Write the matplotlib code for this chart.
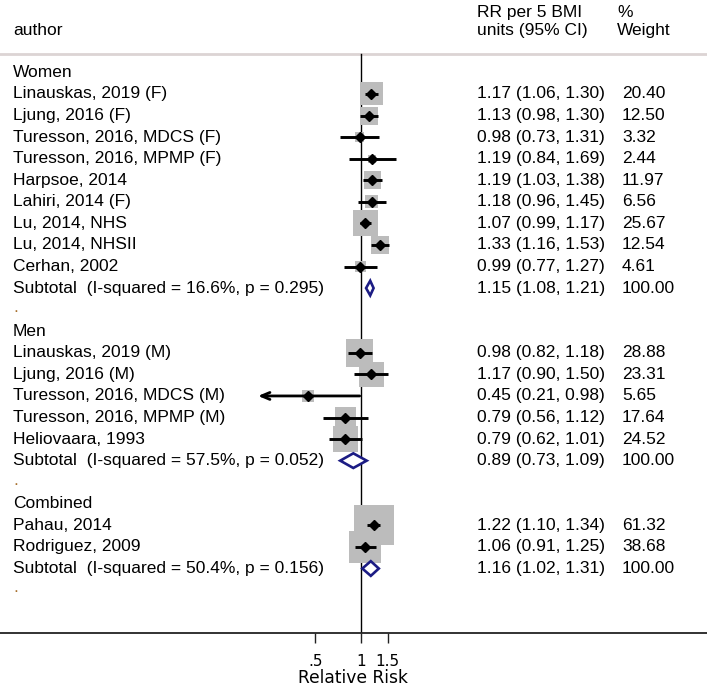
import numpy as np
import matplotlib
matplotlib.use("Agg")
import matplotlib.pyplot as plt
import matplotlib.transforms as mtransforms
from matplotlib.ticker import FixedLocator, FixedFormatter, NullLocator

# ---- data ----
women_names = ["Linauskas, 2019 (F)", "Ljung, 2016 (F)", "Turesson, 2016, MDCS (F)",
               "Turesson, 2016, MPMP (F)", "Harpsoe, 2014", "Lahiri, 2014 (F)",
               "Lu, 2014, NHS", "Lu, 2014, NHSII", "Cerhan, 2002"]
women_rr = [1.17, 1.13, 0.98, 1.19, 1.19, 1.18, 1.07, 1.33, 0.99]
women_lo = [1.06, 0.98, 0.73, 0.84, 1.03, 0.96, 0.99, 1.16, 0.77]
women_hi = [1.30, 1.30, 1.31, 1.69, 1.38, 1.45, 1.17, 1.53, 1.27]
women_wt = [20.40, 12.50, 3.32, 2.44, 11.97, 6.56, 25.67, 12.54, 4.61]

men_names = ["Linauskas, 2019 (M)", "Ljung, 2016 (M)", "Turesson, 2016, MDCS (M)",
             "Turesson, 2016, MPMP (M)", "Heliovaara, 1993"]
men_rr = [0.98, 1.17, 0.45, 0.79, 0.79]
men_lo = [0.82, 0.90, 0.21, 0.56, 0.62]
men_hi = [1.18, 1.50, 0.98, 1.12, 1.01]
men_wt = [28.88, 23.31, 5.65, 17.64, 24.52]

comb_names = ["Pahau, 2014", "Rodriguez, 2009"]
comb_rr = [1.22, 1.06]
comb_lo = [1.10, 0.91]
comb_hi = [1.34, 1.25]
comb_wt = [61.32, 38.68]

group_titles = ["Women", "Men", "Combined"]
sub_labels = ["Subtotal  (I-squared = 16.6%, p = 0.295)",
              "Subtotal  (I-squared = 57.5%, p = 0.052)",
              "Subtotal  (I-squared = 50.4%, p = 0.156)"]
sub_rr = [1.15, 0.89, 1.16]
sub_lo = [1.08, 0.73, 1.02]
sub_hi = [1.21, 1.09, 1.31]

tick_vals = [0.5, 1, 1.5]
tick_labels = [".5", "1", "1.5"]

groups = [
    (women_names, women_rr, women_lo, women_hi, women_wt),
    (men_names, men_rr, men_lo, men_hi, men_wt),
    (comb_names, comb_rr, comb_lo, comb_hi, comb_wt),
]

# ---- figure ----
W, H = 707, 690
fig = plt.figure(figsize=(W / 100, H / 100), dpi=100)
axis_y = 633
ax = fig.add_axes([0, (H - axis_y) / H, 1, axis_y / H])

px_per_ln = 66.0
x_null = 361.0
ax.set_xscale("log")
ax.set_xlim(np.exp(-x_null / px_per_ln), np.exp((W - x_null) / px_per_ln))
row0, step = 72.4, 21.57
ax.set_ylim((axis_y - row0) / step, -row0 / step)

for s in ["top", "left", "right"]:
    ax.spines[s].set_visible(False)
ax.spines["bottom"].set_linewidth(1.3)
ax.spines["bottom"].set_color("#222222")
ax.set_yticks([])
ax.xaxis.set_major_locator(FixedLocator(tick_vals))
ax.xaxis.set_major_formatter(FixedFormatter(tick_labels))
ax.xaxis.set_minor_locator(NullLocator())
ax.tick_params(axis="x", length=7, width=1, color="#222222", pad=8,
               labelsize=11, labelfontfamily="DejaVu Sans")
ax.set_xlabel("Relative Risk", fontsize=12.3, family="DejaVu Sans", labelpad=0)

fs = 12.5
fam = "Liberation Sans"
xl, xc, xw = 13 / W, 477 / W, 622 / W
tr = mtransforms.blended_transform_factory(ax.transAxes, ax.transData)

# header
sep_row = (54 - row0) / step
ax.text(xl, -1.95, "author", transform=tr, fontsize=fs, family=fam, va="center")
ax.text(xc, -2.8, "RR per 5 BMI", transform=tr, fontsize=fs, family=fam, va="center")
ax.text(xc, -1.95, "units (95% CI)", transform=tr, fontsize=fs, family=fam, va="center")
ax.text(617 / W, -2.8, "%", transform=tr, fontsize=fs, family=fam, va="center")
ax.text(617 / W, -1.95, "Weight", transform=tr, fontsize=fs, family=fam, va="center")
ax.axhline(sep_row, color="#dcd4d4", lw=2, zorder=1)

ax.plot([1, 1], [sep_row, ax.get_ylim()[0]], color="black", lw=1, zorder=2)

box_k = 5.1 * 0.72  # points per sqrt(weight)
row = 0
for g, (names, rr, lo, hi, wt) in enumerate(groups):
    ax.text(xl, row, group_titles[g], transform=tr, fontsize=fs, family=fam, va="center")
    row += 1
    for i in range(len(names)):
        ax.text(xl, row, names[i], transform=tr, fontsize=fs, family=fam, va="center")
        ax.text(xc, row, f"{rr[i]:.2f} ({lo[i]:.2f}, {hi[i]:.2f})", transform=tr,
                fontsize=fs, family=fam, va="center")
        ax.text(xw, row, f"{wt[i]:.2f}", transform=tr, fontsize=fs, family=fam, va="center")
        ax.scatter([rr[i]], [row], marker="s", s=(box_k * np.sqrt(wt[i])) ** 2,
                   color="#bcbcbc", edgecolor="none", zorder=3)
        if lo[i] < 0.25:
            ax.annotate("", xy=(lo[i], row), xytext=(hi[i], row),
                        arrowprops=dict(arrowstyle="->,head_length=0.6,head_width=0.25",
                                        color="black", lw=2.0, shrinkA=0, shrinkB=0),
                        zorder=4)
        else:
            ax.plot([lo[i], hi[i]], [row, row], color="black", lw=2.1, zorder=4,
                    solid_capstyle="butt")
        ax.plot([rr[i]], [row], marker="D", ms=5, color="black", zorder=5)
        row += 1
    ax.text(xl, row, sub_labels[g], transform=tr, fontsize=fs, family=fam, va="center")
    ax.text(xc, row, f"{sub_rr[g]:.2f} ({sub_lo[g]:.2f}, {sub_hi[g]:.2f})", transform=tr,
            fontsize=fs, family=fam, va="center")
    ax.text(xw, row, "100.00", transform=tr, fontsize=fs, family=fam, va="center")
    ax.fill([sub_lo[g], sub_rr[g], sub_hi[g], sub_rr[g]],
            [row, row - 0.34, row, row + 0.34],
            facecolor="white", edgecolor="#1c1c84", lw=1.9, zorder=5)
    row += 1
    ax.text(xl, row - 0.1, ".", transform=tr, fontsize=fs, family=fam, va="center",
            color="#a8702e")
    row += 1

fig.savefig("out.png", dpi=100)
